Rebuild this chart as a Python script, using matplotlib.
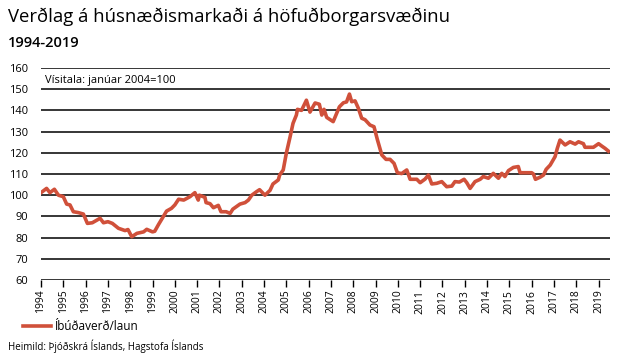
import numpy as np
import matplotlib.pyplot as plt

plt.rcParams['font.family'] = ['Open Sans', 'DejaVu Sans']

# Index values (time in decimal years)
time = [1994.0, 1994.25, 1994.4, 1994.6, 1994.78, 1995.0, 1995.15, 1995.3, 1995.45,
        1995.67, 1995.9, 1996.08, 1996.3, 1996.65, 1996.8, 1997.0, 1997.2, 1997.47,
        1997.77, 1997.9, 1998.07, 1998.3, 1998.6, 1998.74, 1999.0, 1999.1, 1999.26,
        1999.48, 1999.63, 1999.85, 2000.0, 2000.17, 2000.4, 2000.68, 2000.9, 2001.05,
        2001.1, 2001.35, 2001.4, 2001.58, 2001.73, 2001.95, 2002.07, 2002.3, 2002.48,
        2002.6, 2002.92, 2003.15, 2003.3, 2003.45, 2003.67, 2003.8, 2004.04, 2004.27,
        2004.4, 2004.64, 2004.7, 2004.86, 2005.0, 2005.17, 2005.3, 2005.45, 2005.5,
        2005.68, 2005.9, 2006.06, 2006.29, 2006.48, 2006.59, 2006.69, 2006.81, 2007.1,
        2007.38, 2007.56, 2007.7, 2007.83, 2007.93, 2008.08, 2008.23, 2008.38, 2008.53,
        2008.75, 2008.93, 2009.08, 2009.28, 2009.47, 2009.65, 2009.83, 2009.98, 2010.17,
        2010.4, 2010.55, 2010.85, 2011.0, 2011.22, 2011.37, 2011.52, 2011.74, 2011.97,
        2012.19, 2012.42, 2012.56, 2012.76, 2012.97, 2013.09, 2013.24, 2013.46, 2013.69,
        2013.83, 2014.06, 2014.28, 2014.51, 2014.66, 2014.8, 2014.96, 2015.18, 2015.4,
        2015.48, 2015.78, 2016.0, 2016.08, 2016.17, 2016.38, 2016.53, 2016.65, 2016.83,
        2017.05, 2017.15, 2017.27, 2017.5, 2017.72, 2017.95, 2018.1, 2018.32, 2018.39,
        2018.77, 2019.0, 2019.14, 2019.29, 2019.44]
ibudaverd_laun = [101.2, 103.2, 101.2, 102.8, 100.0, 99.3, 95.8, 95.4, 92.2,
                  91.8, 91.1, 86.7, 87.0, 89.1, 87.0, 87.5, 86.7, 84.4,
                  83.3, 83.8, 80.4, 82.0, 82.7, 83.9, 82.7, 83.0, 86.0,
                  89.9, 92.5, 93.8, 95.4, 98.1, 97.7, 99.3, 101.2, 97.7,
                  100.0, 99.0, 96.5, 96.0, 94.1, 95.2, 92.2, 92.2, 91.4,
                  93.4, 95.8, 96.5, 97.7, 100.0, 101.7, 102.6, 100.0, 102.3,
                  105.3, 107.2, 109.5, 111.9, 119.8, 127.6, 133.9, 137.8, 140.5,
                  140.0, 144.8, 139.2, 143.5, 142.9, 137.8, 140.5, 136.7, 134.7,
                  141.7, 143.6, 144.0, 147.7, 144.1, 144.5, 141.0, 136.3, 135.6,
                  133.1, 132.3, 126.3, 119.0, 116.9, 116.9, 115.0, 110.6, 110.2,
                  111.9, 107.5, 107.5, 105.9, 107.6, 109.5, 105.3, 105.6, 106.4,
                  104.0, 104.3, 106.4, 106.2, 107.5, 105.9, 103.2, 106.4, 107.5,
                  108.8, 108.0, 110.3, 108.0, 110.3, 108.8, 111.6, 113.1, 113.5,
                  110.6, 110.6, 110.6, 110.0, 107.5, 108.5, 109.5, 112.2, 114.2,
                  118.2, 122.1, 126.0, 123.7, 125.2, 124.1, 125.2, 124.3, 122.6,
                  122.6, 124.3, 123.2, 122.1, 120.8]

years = list(range(1994, 2020))
y_ticks = list(range(60, 161, 10))

fig = plt.figure(figsize=(6.26, 3.56), dpi=100)
ax = fig.add_axes([0.0655, 0.2135, 0.9085, 0.5955])

for v in y_ticks:
    ax.axhline(v, color='black', lw=1.1, zorder=1)
ax.plot(time, ibudaverd_laun, color='#d0503a', lw=2.6, zorder=3,
        solid_joinstyle='round', label='Íbúðaverð/laun')

ax.set_xlim(1994, 2019.5)
ax.set_ylim(60, 160)
ax.set_yticks(y_ticks)
ax.set_xticks(years)
ax.set_xticklabels([str(y) for y in years], rotation=90, fontsize=7.5)
ax.tick_params(axis='y', length=0, labelsize=8, pad=9)
ax.tick_params(axis='x', length=5, width=1, pad=2, direction='out')
for s in ['top', 'right', 'left', 'bottom']:
    ax.spines[s].set_visible(False)

ax.text(0.007, 0.965, 'Vísitala: janúar 2004=100', transform=ax.transAxes,
        fontsize=8, va='top', ha='left')

fig.text(0.013, 0.98, 'Verðlag á húsnæðismarkaði á höfuðborgarsvæðinu',
         fontsize=13.3, va='top', ha='left')
fig.text(0.013, 0.9, '1994-2019', fontsize=10.5, fontweight='semibold', va='top', ha='left')

fig.legend(loc='lower left', bbox_to_anchor=(0.02, 0.035), frameon=False,
           fontsize=8.5, handlelength=2.4, handletextpad=0.3)
fig.text(0.013, 0.008, 'Heimild: Þjóðskrá Íslands, Hagstofa Íslands', fontsize=7,
         va='bottom', ha='left')

fig.savefig('out.png', dpi=100)
